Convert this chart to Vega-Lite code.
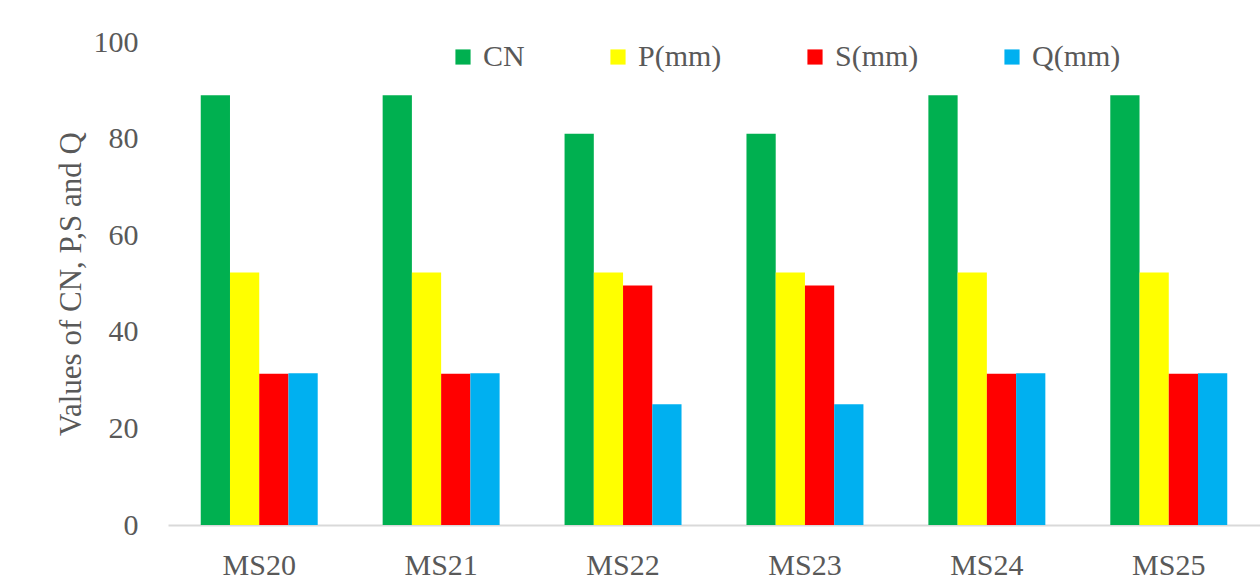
{
  "$schema": "https://vega.github.io/schema/vega-lite/v6.json",
  "width": 1092,
  "height": 483,
  "autosize": "none",
  "padding": {"left": 168, "top": 42, "right": 0, "bottom": 58},
  "background": "white",
  "data": {
    "values": [
      {"site": "MS20", "metric": "CN", "value": 89},
      {"site": "MS20", "metric": "P(mm)", "value": 52.3},
      {"site": "MS20", "metric": "S(mm)", "value": 31.3},
      {"site": "MS20", "metric": "Q(mm)", "value": 31.4},
      {"site": "MS21", "metric": "CN", "value": 89},
      {"site": "MS21", "metric": "P(mm)", "value": 52.3},
      {"site": "MS21", "metric": "S(mm)", "value": 31.3},
      {"site": "MS21", "metric": "Q(mm)", "value": 31.4},
      {"site": "MS22", "metric": "CN", "value": 81},
      {"site": "MS22", "metric": "P(mm)", "value": 52.3},
      {"site": "MS22", "metric": "S(mm)", "value": 49.6},
      {"site": "MS22", "metric": "Q(mm)", "value": 25.0},
      {"site": "MS23", "metric": "CN", "value": 81},
      {"site": "MS23", "metric": "P(mm)", "value": 52.3},
      {"site": "MS23", "metric": "S(mm)", "value": 49.6},
      {"site": "MS23", "metric": "Q(mm)", "value": 25.0},
      {"site": "MS24", "metric": "CN", "value": 89},
      {"site": "MS24", "metric": "P(mm)", "value": 52.3},
      {"site": "MS24", "metric": "S(mm)", "value": 31.3},
      {"site": "MS24", "metric": "Q(mm)", "value": 31.4},
      {"site": "MS25", "metric": "CN", "value": 89},
      {"site": "MS25", "metric": "P(mm)", "value": 52.3},
      {"site": "MS25", "metric": "S(mm)", "value": 31.3},
      {"site": "MS25", "metric": "Q(mm)", "value": 31.4}
    ]
  },
  "mark": {"type": "bar"},
  "encoding": {
    "x": {
      "field": "site",
      "type": "nominal",
      "scale": {"paddingInner": 0.357, "paddingOuter": 0.18},
      "axis": {
        "title": null,
        "labelAngle": 0,
        "labelFont": "Liberation Serif",
        "labelFontSize": 30,
        "labelColor": "#595959",
        "labelPadding": 25,
        "ticks": false,
        "domainColor": "#d9d9d9",
        "domainWidth": 2
      }
    },
    "xOffset": {
      "field": "metric",
      "type": "nominal",
      "sort": ["CN", "P(mm)", "S(mm)", "Q(mm)"],
      "scale": {"paddingInner": 0, "paddingOuter": 0}
    },
    "y": {
      "field": "value",
      "type": "quantitative",
      "scale": {"domain": [0, 100], "nice": false},
      "axis": {
        "title": "Values of CN, P,S and Q",
        "titleFont": "Liberation Serif",
        "titleFontSize": 31,
        "titleFontWeight": "normal",
        "titleColor": "#595959",
        "titlePadding": 6,
        "values": [0, 20, 40, 60, 80, 100],
        "labelFont": "Liberation Serif",
        "labelFontSize": 30,
        "labelColor": "#595959",
        "labelPadding": 30,
        "ticks": false,
        "domain": false,
        "grid": false
      }
    },
    "color": {
      "field": "metric",
      "type": "nominal",
      "sort": ["CN", "P(mm)", "S(mm)", "Q(mm)"],
      "scale": {
        "domain": ["CN", "P(mm)", "S(mm)", "Q(mm)"],
        "range": ["#00B050", "#FFFF00", "#FF0000", "#00B0F0"]
      },
      "legend": {
        "title": null,
        "orient": "none",
        "legendX": 280,
        "legendY": 0,
        "direction": "horizontal",
        "columns": 4,
        "symbolType": "square",
        "symbolSize": 230,
        "symbolStrokeWidth": 0,
        "labelFont": "Liberation Serif",
        "labelFontSize": 30,
        "labelColor": "#595959",
        "labelOffset": 5,
        "columnPadding": 78
      }
    }
  },
  "config": {
    "view": {"stroke": null}
  }
}
